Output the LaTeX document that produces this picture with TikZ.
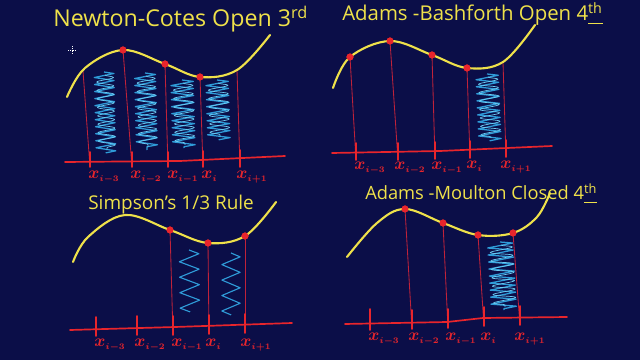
\documentclass[tikz,border=0pt]{standalone}
\usepackage{fontspec}
\setmainfont{Open Sans}
\usetikzlibrary{decorations.pathmorphing}
\definecolor{boardBg}{HTML}{0B0E48}
\definecolor{boardYellow}{HTML}{EFE14A}
\definecolor{boardRed}{HTML}{E8252C}
\definecolor{boardOrd}{HTML}{C0223A}
\definecolor{boardBlue}{HTML}{2F9BD8}
\definecolor{boardCyan}{HTML}{6CCBF2}
\newcommand{\xsub}[1]{$x_{\scriptscriptstyle #1}$}
\tikzset{
  boardfig/.style={
    x=0.025cm, y=-0.025cm,
    every node/.append style={inner sep=0pt},
  },
  curveline/.style={draw=boardYellow, line width=1.5pt, line cap=round, smooth, tension=0.6},
  axisline/.style={draw=boardRed, line width=1.2pt, line cap=round, line join=round},
  tickline/.style={draw=boardRed, line width=1.1pt, line cap=round},
  ordline/.style={draw=boardOrd, line width=0.6pt},
  knot/.style={circle, fill=boardRed, minimum size=5pt},
  xlabel/.style={text=boardRed, font=\large\boldmath, anchor=north west},
  boardtitle/.style={text=boardYellow, anchor=base west},
  % dichte Schraffur fuer die Flaechen
  scrib/.style={draw=boardBlue, line width=0.9pt, line join=round, decorate,
    decoration={zigzag, amplitude=#1, segment length=5pt}},
  scribhi/.style={draw=boardCyan, line width=0.5pt, line join=round, decorate,
    decoration={snake, amplitude=#1, segment length=6pt}},
  scribthin/.style={draw=boardBlue, line width=0.8pt, line join=round, decorate,
    decoration={zigzag, amplitude=#1, segment length=11pt}},
  cursor/.style={draw=white!60, line width=0.3pt, densely dotted},
}
\begin{document}
\begin{tikzpicture}[boardfig]
  \fill[boardBg] (0,0) rectangle (640,360);
  \useasboundingbox (0,0) rectangle (640,360);

  % Newton-Cotes open 3rd
  \node[boardtitle, font=\fontsize{16.5}{20}\selectfont] (TitleNC) at (53,27) {Newton-Cotes Open 3\textsuperscript{rd}};
  \draw[cursor] (68,50) -- (76,50) (72,46) -- (72,54);
  \draw[scrib=7pt] (104,72) -- (106,153);
  \draw[scribhi=6pt] (105,75) -- (107,150);
  \draw[scrib=7.5pt] (145,73) -- (147,150);
  \draw[scribhi=6.5pt] (146,76) -- (148,147);
  \draw[scrib=8pt] (182,80) -- (184,148);
  \draw[scribhi=7pt] (183,83) -- (185,145);
  \draw[scrib=8pt] (217,80) -- (219,140);
  \draw[scribhi=7pt] (218,83) -- (220,137);
  \coordinate (NCa) at (83,71);
  \node[knot] (NCb) at (123,50) {};
  \node[knot] (NCc) at (165,64) {};
  \node[knot] (NCd) at (200,77) {};
  \coordinate (NCe) at (237,70);
  \coordinate (NCta) at (90,167);
  \coordinate (NCtb) at (132,167);
  \coordinate (NCtc) at (168,167);
  \coordinate (NCtd) at (203,167);
  \coordinate (NCte) at (240,167);
  \draw[ordline] (NCa) -- (NCta);
  \draw[ordline] (NCb.center) -- (NCtb);
  \draw[ordline] (NCc.center) -- (NCtc);
  \draw[ordline] (NCd.center) -- (NCtd);
  \draw[ordline] (NCe) -- (NCte);
  \draw[axisline] (65,162) -- (180,161) -- (285,156);
  \draw[tickline] (90,152) -- (NCta);
  \draw[tickline] (132,152) -- (NCtb);
  \draw[tickline] (168,152) -- (NCtc);
  \draw[tickline] (203,151) -- (NCtd);
  \draw[tickline] (240,150) -- (NCte);
  \draw[curveline] plot coordinates {(67,97) (85,68) (123,50) (165,64) (200,77) (237,70) (270,35)};
  \node[knot] at (NCb) {};
  \node[knot] at (NCc) {};
  \node[knot] at (NCd) {};
  \node[xlabel] (NCla) at (88,171) {\xsub{i-3}};
  \node[xlabel] (NClb) at (130,171) {\xsub{i-2}};
  \node[xlabel] (NClc) at (167,171) {\xsub{i-1}};
  \node[xlabel] (NCld) at (201,171) {\xsub{i}};
  \node[xlabel] (NCle) at (236,171) {\xsub{i+1}};

  % Adams-Bashforth open 4th
  \node[boardtitle, font=\fontsize{14.5}{18}\selectfont] (TitleAB) at (342,21) {Adams -Bashforth Open 4\underline{\textsuperscript{th}}};
  \draw[scrib=8pt] (487,74) -- (490,141);
  \draw[scribhi=7pt] (488,77) -- (491,138);
  \node[knot] (ABa) at (350,57) {};
  \node[knot] (ABb) at (390,41) {};
  \node[knot] (ABc) at (432,55) {};
  \node[knot] (ABd) at (467,68) {};
  \coordinate (ABe) at (503,62);
  \coordinate (ABta) at (356,160);
  \coordinate (ABtb) at (398,160);
  \coordinate (ABtc) at (435,159);
  \coordinate (ABtd) at (470,158);
  \coordinate (ABte) at (506,157);
  \draw[ordline] (ABa.center) -- (ABta);
  \draw[ordline] (ABb.center) -- (ABtb);
  \draw[ordline] (ABc.center) -- (ABtc);
  \draw[ordline] (ABd.center) -- (ABtd);
  \draw[ordline] (ABe) -- (ABte);
  \draw[axisline] (332,153) -- (440,151) -- (552,146);
  \draw[tickline] (356,143) -- (ABta);
  \draw[tickline] (398,143) -- (ABtb);
  \draw[tickline] (435,142) -- (ABtc);
  \draw[tickline] (470,141) -- (ABtd);
  \draw[tickline] (506,140) -- (ABte);
  \draw[curveline] plot coordinates {(333,88) (350,57) (390,41) (432,55) (467,68) (503,62) (535,25)};
  \node[knot] at (ABa) {};
  \node[knot] at (ABb) {};
  \node[knot] at (ABc) {};
  \node[knot] at (ABd) {};
  \node[xlabel] (ABla) at (354,162) {\xsub{i-3}};
  \node[xlabel] (ABlb) at (394,162) {\xsub{i-2}};
  \node[xlabel] (ABlc) at (431,162) {\xsub{i-1}};
  \node[xlabel] (ABld) at (466,161) {\xsub{i}};
  \node[xlabel] (ABle) at (500,161) {\xsub{i+1}};

  % Simpson 1/3
  \node[boardtitle, font=\fontsize{13.5}{16}\selectfont] (TitleSI) at (88,210) {Simpson's 1/3 Rule};
  \draw[scribthin=7pt] (189,250) -- (190,312);
  \draw[scribthin=6.5pt] (231,253) -- (231,315);
  \node[knot] (SIa) at (170,230) {};
  \node[knot] (SIb) at (208,243) {};
  \node[knot] (SIc) at (245,236) {};
  \coordinate (SIta) at (96,336);
  \coordinate (SItb) at (137,335);
  \coordinate (SItc) at (173,335);
  \coordinate (SItd) at (209,334);
  \coordinate (SIte) at (245,333);
  \draw[ordline] (SIa.center) -- (SItc);
  \draw[ordline] (SIb.center) -- (SItd);
  \draw[ordline] (SIc.center) -- (SIte);
  \draw[axisline] (70,330) -- (175,327) -- (292,323);
  \draw[tickline] (96,317) -- (SIta);
  \draw[tickline] (137,316) -- (SItb);
  \draw[tickline] (173,316) -- (SItc);
  \draw[tickline] (209,315) -- (SItd);
  \draw[tickline] (245,314) -- (SIte);
  \draw[curveline] plot coordinates {(73,262) (88,237) (125,215) (170,230) (208,243) (245,236) (276,202)};
  \node[knot] at (SIa) {};
  \node[knot] at (SIb) {};
  \node[knot] at (SIc) {};
  \node[xlabel] (SIla) at (94,339) {\xsub{i-3}};
  \node[xlabel] (SIlb) at (134,339) {\xsub{i-2}};
  \node[xlabel] (SIlc) at (171,339) {\xsub{i-1}};
  \node[xlabel] (SIld) at (205,339) {\xsub{i}};
  \node[xlabel] (SIle) at (240,339) {\xsub{i+1}};

  % Adams-Moulton closed 4th
  \node[boardtitle, font=\fontsize{13}{16}\selectfont] (TitleAM) at (365,200) {Adams -Moulton Closed 4\underline{\textsuperscript{th}}};
  \draw[scrib=9pt] (500,242) -- (504,310);
  \draw[scribhi=8pt] (501,245) -- (505,307);
  \node[knot] (AMa) at (405,209) {};
  \node[knot] (AMb) at (443,223) {};
  \node[knot] (AMc) at (478,235) {};
  \node[knot] (AMd) at (513,233) {};
  \coordinate (AMta) at (370,330);
  \coordinate (AMtb) at (412,329);
  \coordinate (AMtc) at (448,328);
  \coordinate (AMtd) at (484,326);
  \coordinate (AMte) at (520,325);
  \draw[ordline] (AMa.center) -- (AMtb);
  \draw[ordline] (AMb.center) -- (AMtc);
  \draw[ordline] (AMc.center) -- (AMtd);
  \draw[ordline] (AMd.center) -- (AMte);
  \draw[axisline] (345,324) -- (447,322) -- (483,318) -- (567,317);
  \draw[tickline] (370,309) -- (AMta);
  \draw[tickline] (412,310) -- (AMtb);
  \draw[tickline] (448,309) -- (AMtc);
  \draw[tickline] (484,307) -- (AMtd);
  \draw[tickline] (520,306) -- (AMte);
  \draw[curveline] plot coordinates {(347,257) (377,223) (405,209) (443,223) (478,235) (513,233) (537,217) (550,193)};
  \node[knot] at (AMa) {};
  \node[knot] at (AMb) {};
  \node[knot] at (AMc) {};
  \node[knot] at (AMd) {};
  \node[xlabel] (AMla) at (368,333) {\xsub{i-3}};
  \node[xlabel] (AMlb) at (408,333) {\xsub{i-2}};
  \node[xlabel] (AMlc) at (445,333) {\xsub{i-1}};
  \node[xlabel] (AMld) at (480,333) {\xsub{i}};
  \node[xlabel] (AMle) at (514,333) {\xsub{i+1}};
\end{tikzpicture}
\end{document}
